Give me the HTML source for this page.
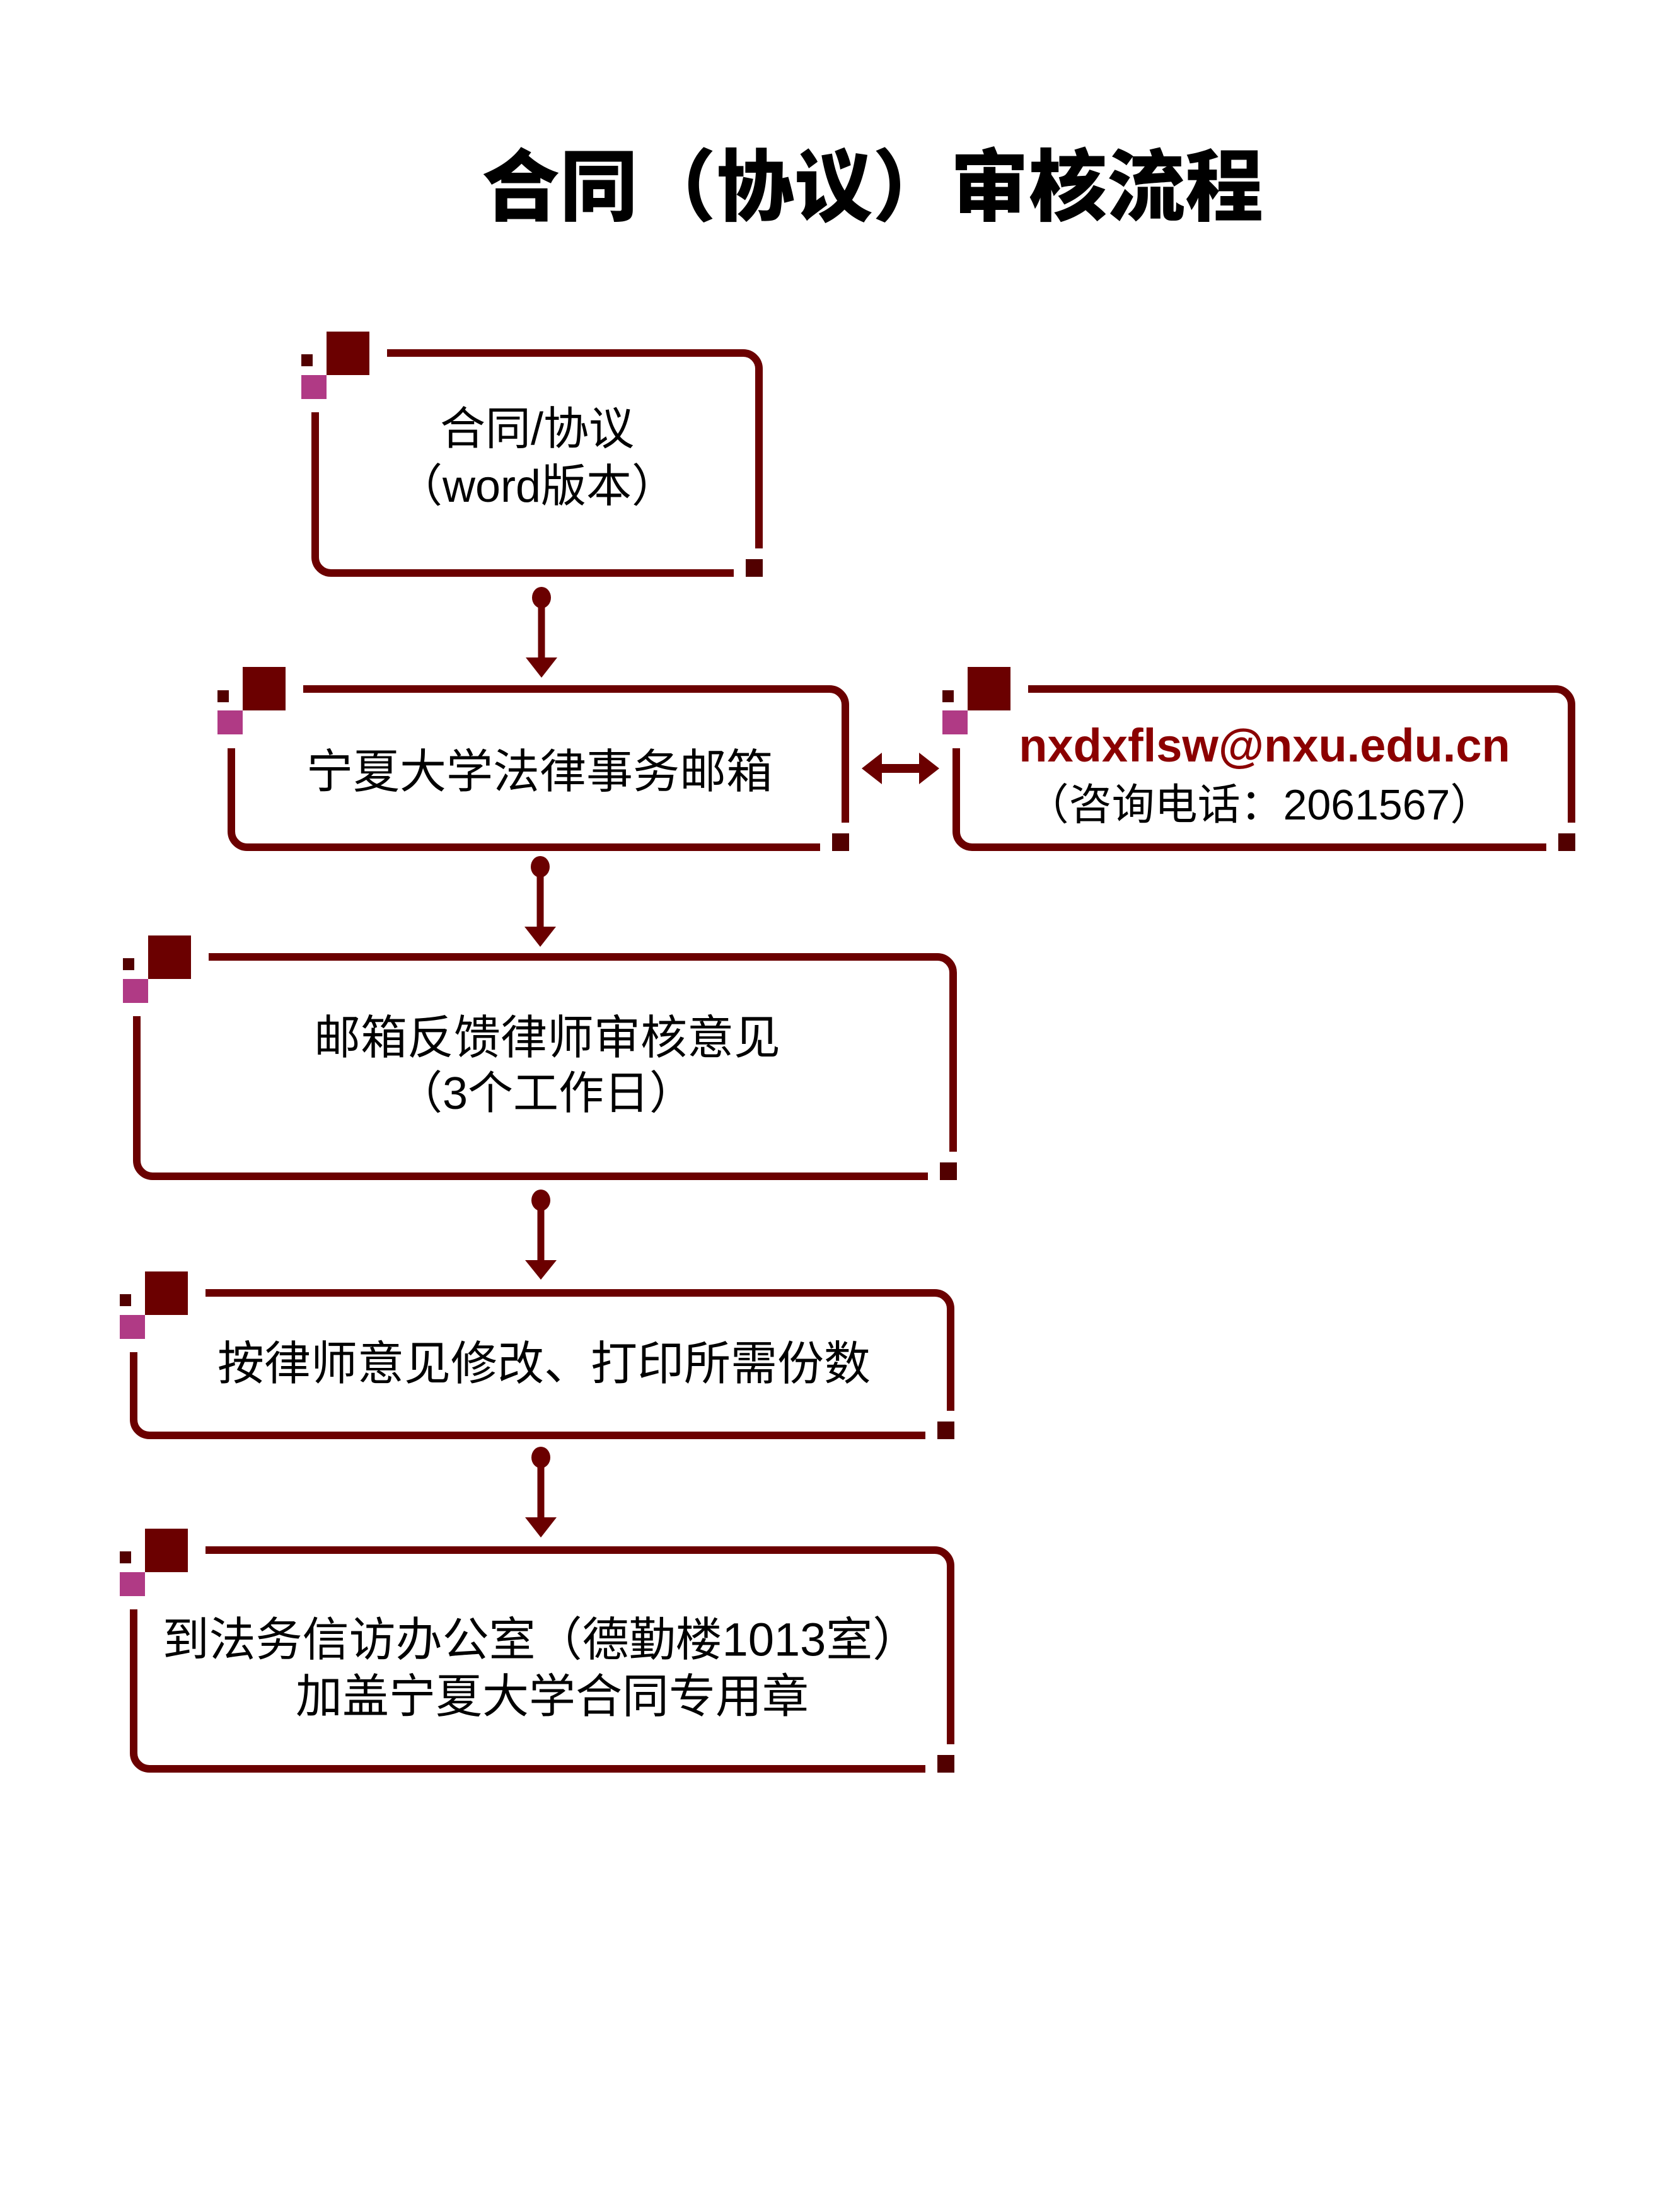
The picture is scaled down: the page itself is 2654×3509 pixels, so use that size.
<!DOCTYPE html>
<html><head><meta charset="utf-8">
<style>
html,body{margin:0;padding:0;background:#fff;}
svg{display:block;}
text{font-family:"Liberation Sans","Noto Sans CJK SC",sans-serif;}
</style></head>
<body>
<svg width="2654" height="3509" viewBox="0 0 2654 3509" xmlns="http://www.w3.org/2000/svg">
<rect width="2654" height="3509" fill="#fff"/>
<text x="1384" y="286" text-anchor="middle" dominant-baseline="central" font-size="124" font-weight="900" fill="#000" style="font-family:'Noto Sans CJK SC',sans-serif">合同（协议）审核流程</text>

<g fill="none" stroke="#6b0000" stroke-width="12">
<path d="M614 560 H1179 A25 25 0 0 1 1204 585 V870"/>
<path d="M500 654 V884 A25 25 0 0 0 525 909 H1164"/>
<path d="M481 1093 H1316 A25 25 0 0 1 1341 1118 V1305"/>
<path d="M367 1187 V1319 A25 25 0 0 0 392 1344 H1301"/>
<path d="M1631 1093 H2468 A25 25 0 0 1 2493 1118 V1305"/>
<path d="M1517 1187 V1319 A25 25 0 0 0 1542 1344 H2453"/>
<path d="M331 1518 H1487 A25 25 0 0 1 1512 1543 V1827"/>
<path d="M217 1612 V1841 A25 25 0 0 0 242 1866 H1472"/>
<path d="M326 2051 H1483 A25 25 0 0 1 1508 2076 V2238"/>
<path d="M212 2145 V2252 A25 25 0 0 0 237 2277 H1468"/>
<path d="M326 2459 H1483 A25 25 0 0 1 1508 2484 V2767"/>
<path d="M212 2553 V2781 A25 25 0 0 0 237 2806 H1468"/>
</g>

<g>
<rect x="518" y="526" width="68" height="69" fill="#6b0000"/><rect x="478" y="562" width="18" height="19" fill="#520000"/><rect x="478" y="595" width="40" height="38" fill="#b03a85"/><rect x="1183" y="887" width="27" height="28" fill="#520000"/>
<rect x="385" y="1058" width="68" height="69" fill="#6b0000"/><rect x="345" y="1095" width="18" height="19" fill="#520000"/><rect x="345" y="1127" width="40" height="38" fill="#b03a85"/><rect x="1320" y="1322" width="27" height="28" fill="#520000"/>
<rect x="1535" y="1058" width="68" height="69" fill="#6b0000"/><rect x="1495" y="1095" width="18" height="19" fill="#520000"/><rect x="1495" y="1127" width="40" height="38" fill="#b03a85"/><rect x="2472" y="1322" width="27" height="28" fill="#520000"/>
<rect x="235" y="1484" width="68" height="69" fill="#6b0000"/><rect x="195" y="1520" width="18" height="19" fill="#520000"/><rect x="195" y="1553" width="40" height="38" fill="#b03a85"/><rect x="1491" y="1844" width="27" height="28" fill="#520000"/>
<rect x="230" y="2017" width="68" height="69" fill="#6b0000"/><rect x="190" y="2053" width="18" height="19" fill="#520000"/><rect x="190" y="2086" width="40" height="38" fill="#b03a85"/><rect x="1487" y="2255" width="27" height="28" fill="#520000"/>
<rect x="230" y="2425" width="68" height="69" fill="#6b0000"/><rect x="190" y="2461" width="18" height="19" fill="#520000"/><rect x="190" y="2494" width="40" height="38" fill="#b03a85"/><rect x="1487" y="2784" width="27" height="28" fill="#520000"/>
</g>

<g fill="#6b0000" stroke="none">
<ellipse cx="859" cy="948" rx="15" ry="17"/><rect x="853.5" y="948" width="11" height="96"/><polygon points="834,1043 884,1043 859,1075"/>
<ellipse cx="857" cy="1375" rx="15" ry="17"/><rect x="851.5" y="1375" width="11" height="96"/><polygon points="832,1470 882,1470 857,1502"/>
<ellipse cx="858" cy="1904" rx="15" ry="17"/><rect x="852.5" y="1904" width="11" height="96"/><polygon points="833,1999 883,1999 858,2030"/>
<ellipse cx="858" cy="2312" rx="15" ry="17"/><rect x="852.5" y="2312" width="11" height="96"/><polygon points="833,2407 883,2407 858,2439"/>
<polygon points="1367,1219 1399,1194 1399,1212 1458,1212 1458,1194 1490,1219 1458,1244 1458,1226 1399,1226 1399,1244"/>
</g>

<g fill="#000" font-size="72" text-anchor="middle" dominant-baseline="central">
<text x="852" y="681">合同/协议</text>
<text x="852" y="772">（word版本）</text>
<text x="856" y="1224" font-size="74">宁夏大学法律事务邮箱</text>
<text x="868" y="1646" font-size="74">邮箱反馈律师审核意见</text>
<text x="866" y="1735" font-size="72">（3个工作日）</text>
<text x="863" y="2163" font-size="74">按律师意见修改、打印所需份数</text>
<text x="858" y="2601" font-size="74">到法务信访办公室（德勤楼1013室）</text>
<text x="876" y="2691" font-size="74">加盖宁夏大学合同专用章</text>
<text x="1998" y="1277" font-size="68">（咨询电话：2061567）</text>
</g>
<text x="2006" y="1208" text-anchor="middle" font-size="74" font-weight="bold" fill="#8b0000">nxdxflsw@nxu.edu.cn</text>
</svg>
</body></html>
